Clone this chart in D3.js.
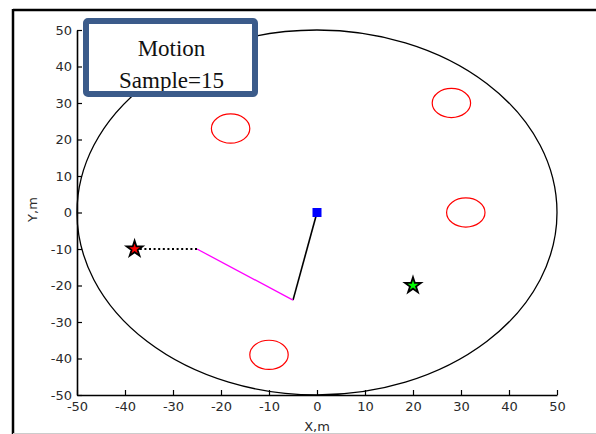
<!DOCTYPE html>
<html>
<head>
<meta charset="utf-8">
<script src="https://cdn.jsdelivr.net/npm/d3@7"></script>
<style>
  html, body { margin: 0; padding: 0; background: #fff; }
  svg { display: block; }
  .tick text { font-family: "DejaVu Sans", sans-serif; font-size: 13px; fill: #2a2a2a; }
</style>
</head>
<body>
<svg id="chart" width="596" height="434"></svg>
<script>
// Axis ticks
const xTicks = [-50, -40, -30, -20, -10, 0, 10, 20, 30, 40, 50];
const yTicks = [-50, -40, -30, -20, -10, 0, 10, 20, 30, 40, 50];

// Working area boundary (centre x, centre y, radius), metres
const boundaryCenter = [0, 0];
const boundaryRadius = 50;

// Obstacles: centres and radius, metres
const obstacleX = [-18, 28, 31, -10];
const obstacleY = [23, 30, 0, -39];
const obstacleR = 4;

// Path segments (x, y in metres)
const startPoint = [0, 0];
const solidPath = [[0, 0], [-5, -24]];
const magentaPath = [[-5, -24], [-25, -10]];
const dottedPath = [[-25, -10], [-38, -10]];

// Targets
const redTarget = [-38, -10];
const greenTarget = [20, -20];

// Annotation text
const boxLines = ["Motion", "Sample=15"];

const svg = d3.select("#chart");

// Outer frame
svg.append("line").attr("x1", 13).attr("x2", 596).attr("y1", 10).attr("y2", 10)
  .attr("stroke", "#000").attr("stroke-width", 2.5);
svg.append("line").attr("x1", 13).attr("x2", 13).attr("y1", 9).attr("y2", 434)
  .attr("stroke", "#000").attr("stroke-width", 2.5);
svg.append("line").attr("x1", 13).attr("x2", 596).attr("y1", 433.5).attr("y2", 433.5)
  .attr("stroke", "#ccc").attr("stroke-width", 1);

const x = d3.scaleLinear().domain([-50, 50]).range([77, 557]);
const y = d3.scaleLinear().domain([-50, 50]).range([395, 30]);

// Boundary circle
svg.append("ellipse")
  .attr("cx", x(boundaryCenter[0])).attr("cy", y(boundaryCenter[1]))
  .attr("rx", x(boundaryRadius) - x(0)).attr("ry", y(0) - y(boundaryRadius))
  .attr("fill", "none").attr("stroke", "#000").attr("stroke-width", 1.3);

// Obstacles
svg.append("g").selectAll("ellipse")
  .data(d3.zip(obstacleX, obstacleY))
  .join("ellipse")
  .attr("cx", d => x(d[0])).attr("cy", d => y(d[1]))
  .attr("rx", x(obstacleR) - x(0)).attr("ry", y(0) - y(obstacleR))
  .attr("fill", "none").attr("stroke", "#ff0000").attr("stroke-width", 1.2);

const line = d3.line().x(d => x(d[0])).y(d => y(d[1]));

svg.append("path").attr("d", line(solidPath))
  .attr("fill", "none").attr("stroke", "#000").attr("stroke-width", 1.6);
svg.append("path").attr("d", line(magentaPath))
  .attr("fill", "none").attr("stroke", "#ff00ff").attr("stroke-width", 1.3);
svg.append("path").attr("d", line(dottedPath))
  .attr("fill", "none").attr("stroke", "#000").attr("stroke-width", 2)
  .attr("stroke-dasharray", "2,2.6");

// Start marker
svg.append("rect")
  .attr("x", x(startPoint[0]) - 4.5).attr("y", y(startPoint[1]) - 4.5)
  .attr("width", 9).attr("height", 9)
  .attr("fill", "#0000ff");

// Target markers
const star = d3.symbol().type(d3.symbolStar).size(78);
[[redTarget, "#ff0000"], [greenTarget, "#00ff00"]].forEach(([p, c]) => {
  svg.append("path").attr("d", star())
    .attr("transform", `translate(${x(p[0])},${y(p[1])})`)
    .attr("fill", c).attr("stroke", "#000").attr("stroke-width", 1.8)
    .attr("stroke-linejoin", "miter");
});

// Axes (plain hyphen for negative labels)
const fmt = d => String(d);
const xAxis = svg.append("g").attr("transform", `translate(0,${y(-50)})`)
  .call(d3.axisBottom(x).tickValues(xTicks).tickFormat(fmt)
    .tickSizeInner(-5).tickSizeOuter(0).tickPadding(7));
const yAxis = svg.append("g").attr("transform", `translate(${x(-50)},0)`)
  .call(d3.axisLeft(y).tickValues(yTicks).tickFormat(fmt)
    .tickSizeInner(-5).tickSizeOuter(0).tickPadding(5));
[xAxis, yAxis].forEach(g => {
  g.select(".domain").attr("stroke", "#000").attr("stroke-width", 1.6);
  g.selectAll(".tick line").attr("stroke", "#000").attr("stroke-width", 1.2);
});

// Axis titles
svg.append("text").attr("x", x(0)).attr("y", 431)
  .attr("text-anchor", "middle")
  .style("font-family", "'DejaVu Sans', sans-serif").style("font-size", "13px")
  .attr("fill", "#2a2a2a").text("X,m");
svg.append("text").attr("transform", `translate(37,${y(0) - 3}) rotate(-90)`)
  .attr("text-anchor", "middle")
  .style("font-family", "'DejaVu Sans', sans-serif").style("font-size", "13px")
  .attr("fill", "#2a2a2a").text("Y,m");

// Annotation box
const box = { x: 86, y: 21, w: 169, h: 73 };
svg.append("rect").attr("x", box.x).attr("y", box.y).attr("width", box.w).attr("height", box.h)
  .attr("fill", "#fff");
svg.append("g").selectAll("text").data(boxLines).join("text")
  .attr("x", box.x + box.w / 2 + 1)
  .attr("y", (d, i) => 56 + i * 32)
  .attr("text-anchor", "middle")
  .style("font-family", "'Liberation Serif', 'Times New Roman', serif")
  .style("font-size", "23px")
  .attr("fill", "#111")
  .text(d => d);
svg.append("rect").attr("x", box.x).attr("y", box.y).attr("width", box.w).attr("height", box.h)
  .attr("rx", 2)
  .attr("fill", "none").attr("stroke", "#3b5b8a").attr("stroke-width", 6);
</script>
</body>
</html>
